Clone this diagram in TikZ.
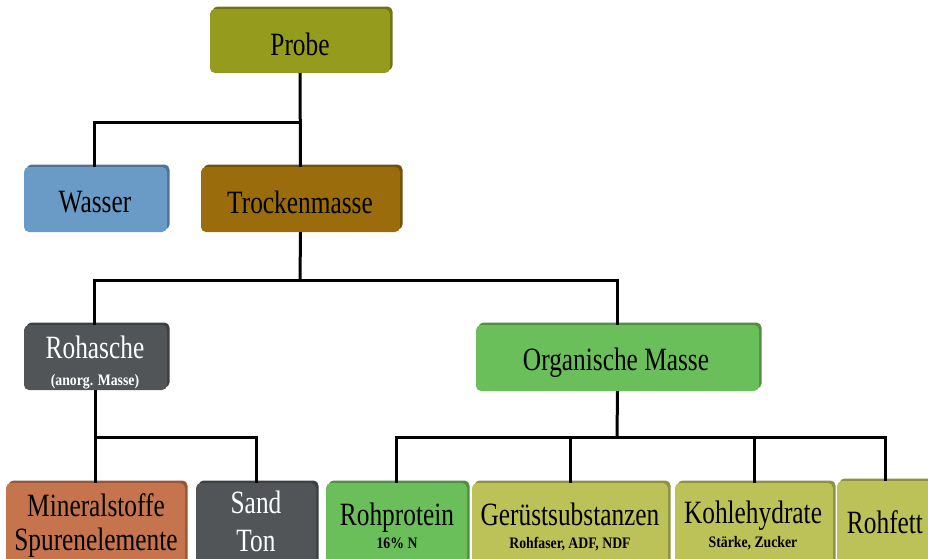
\documentclass[tikz,border=0pt]{standalone}
\usepackage{fontspec}
\setmainfont{Liberation Serif}[FakeStretch=0.78]
\newfontfamily\smallserif{Liberation Serif}[FakeStretch=0.86]
\usetikzlibrary{shadows}
\definecolor{cprobe}{HTML}{959B1D}
\definecolor{cwasser}{HTML}{6A9AC6}
\definecolor{ctrocken}{HTML}{9A6C0C}
\definecolor{cgray}{HTML}{515557}
\definecolor{cgreen}{HTML}{6ABF5A}
\definecolor{cmineral}{HTML}{C6744D}
\definecolor{cyel}{HTML}{BCC257}
\tikzset{
  box/.style={draw=none, fill=#1, rounded corners=5pt, inner sep=0pt,
    general shadow={shadow xshift=2.5pt, shadow yshift=2.5pt, fill=#1!75!black}},
  conn/.style={draw=black, line width=3pt},
  big/.style={font=\fontsize{32.5}{34}\selectfont, inner sep=0pt, anchor=base},
  small/.style={font=\smallserif\fontsize{16}{18}\selectfont\bfseries, inner sep=0pt, anchor=base}
}
\begin{document}
\begin{tikzpicture}[x=1pt,y=-1pt]
\useasboundingbox (0,0) rectangle (928,558);
\clip (0,0) rectangle (928,558);
% boxes
\node[box=cprobe, minimum width=180pt, minimum height=64pt] (probe) at (300,41) {};
\node[box=cwasser, minimum width=143pt, minimum height=65pt] (wasser) at (95.5,199.5) {};
\node[box=ctrocken, minimum width=199pt, minimum height=65pt] (trocken) at (300.5,199.5) {};
\node[box=cgray, minimum width=143pt, minimum height=65pt] (rohasche) at (95.5,357.5) {};
\node[box=cgreen, minimum width=283pt, minimum height=66pt] (organ) at (617.5,358) {};
\node[box=cmineral, minimum width=179pt, minimum height=90pt] (mineral) at (95.5,528) {};
\node[box=cgray, minimum width=120pt, minimum height=90pt] (sand) at (256,528) {};
\node[box=cgreen, minimum width=141pt, minimum height=90pt] (rohprotein) at (396.5,528) {};
\node[box=cyel, minimum width=196pt, minimum height=90pt] (geruest) at (570,528) {};
\node[box=cyel, minimum width=158pt, minimum height=90pt] (kohle) at (754,528) {};
\node[box=cyel, minimum width=100pt, minimum height=90pt] (rohfett) at (887,526) {};
% texts
\node[big] (tprobe) at (300,55) {Probe};
\node[big] (twasser) at (95,212) {Wasser};
\node[big] (ttrocken) at (300,213) {Trockenmasse};
\node[big, text=white] (trohasche) at (95,358) {Rohasche};
\node[small, text=white] (trohasche2) at (95,385) {(anorg. Masse)};
\node[big] (torgan) at (616,370) {Organische Masse};
\node[big] (tmin1) at (96,516) {Mineralstoffe};
\node[big] (tmin2) at (96,550) {Spurenelemente};
\node[big, text=white] (tsand1) at (256,513) {Sand};
\node[big, text=white] (tsand2) at (256,551) {Ton};
\node[big] (tprot) at (397,525) {Rohprotein};
\node[small] (tprot2) at (397,548) {16\% N};
\node[big] (tger) at (570,525) {Gerüstsubstanzen};
\node[small] (tger2) at (570,548) {Rohfaser, ADF, NDF};
\node[big] (tkoh) at (753,523) {Kohlehydrate};
\node[small] (tkoh2) at (753,547) {Stärke, Zucker};
\node[big] (tfett) at (885,533) {Rohfett};
% junctions
\coordinate (j1) at (300,122);
\coordinate (j2) at (300,280);
\coordinate (j3) at (95,437);
\coordinate (j4) at (617,437);
% connectors
\draw[conn] (probe.south) -- (trocken.north);
\draw[conn] (wasser.north -| 94,0) |- (j1);
\draw[conn] (trocken.south) -- (j2);
\draw[conn] (rohasche.north -| 94,0) |- (j2) -| (organ.north);
\draw[conn] (rohasche.south) -- (rohasche.south |- mineral.north);
\draw[conn] (rohasche.south |- j3) -| (sand.north);
\draw[conn] (organ.south) -- (j4);
\draw[conn] (rohprotein.north) |- (j4) -| (885,0 |- rohfett.north);
\draw[conn] (geruest.north) -- (geruest.north |- j4);
\draw[conn] (kohle.north) -- (kohle.north |- j4);
\end{tikzpicture}
\end{document}
